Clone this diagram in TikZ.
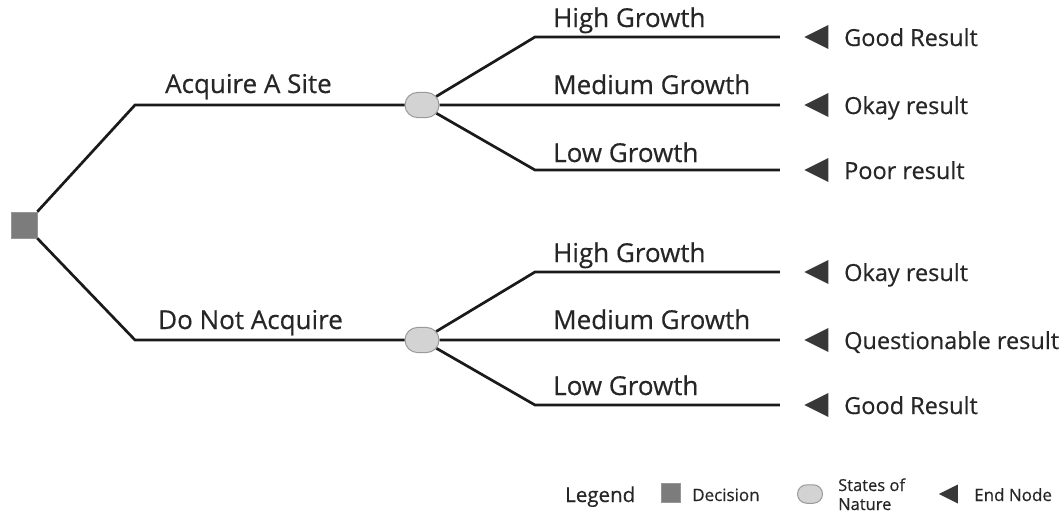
\documentclass[tikz,border=0pt]{standalone}
\usepackage{fontspec}
\setmainfont{Open Sans}[FakeBold=0.45]
\usetikzlibrary{shapes.geometric,shapes.misc}
\definecolor{ink}{HTML}{1A1A1A}
\definecolor{txt}{HTML}{262626}
\definecolor{decfill}{HTML}{7C7C7C}
\definecolor{chfill}{HTML}{D3D3D3}
\definecolor{chdraw}{HTML}{9A9A9A}
\definecolor{endfill}{HTML}{383838}
\tikzset{
  edge/.style={draw=ink, line width=2.7pt},
  decision/.style={rectangle, fill=decfill, draw=decfill!80!white, line width=0.6pt, minimum size=#1, inner sep=0pt},
  chance/.style={rounded rectangle, fill=chfill, draw=chdraw, line width=1pt, minimum width=#1, minimum height=0.74*#1, inner sep=0pt},
  endnode/.style={isosceles triangle, isosceles triangle stretches, shape border rotate=180, fill=endfill, inner sep=0pt, minimum width=#1, minimum height=#1},
  blabel/.style={anchor=base west, text=txt, font=\fontsize{26}{26}\selectfont, inner sep=0pt},
  rlabel/.style={anchor=base west, text=txt, font=\fontsize{23.5}{24}\selectfont, inner sep=0pt},
  lglabel/.style={anchor=base west, text=txt, font=\fontsize{17}{17}\selectfont, inner sep=0pt},
}
\begin{document}
\begin{tikzpicture}[x=1pt, y=-1pt]
\useasboundingbox (0,0) rectangle (1061,512);

% decision and chance nodes
\node[decision=26pt] (dec) at (24,225) {};
\node[chance=34pt] (c1) at (422,105) {};
\node[chance=34pt] (c2) at (422,340) {};

% bend points of the two decision branches
\coordinate (a1) at (135,105);
\coordinate (a2) at (135,340);
\draw[edge] (dec.north east) -- (a1) -- (c1);
\draw[edge] (dec.south east) -- (a2) -- (c2);
\node[blabel] (la1) at (165,93) {Acquire A Site};
\node[blabel] (la2) at (158,329) {Do Not Acquire};

% end nodes
\foreach \n/\y in {e1/37, e2/105, e3/170, e4/272, e5/340, e6/405}
  \node[endnode=24pt] (\n) at (821,\y) {};

% outcome branches
\coordinate (b1) at (535,37);
\coordinate (b3) at (535,170);
\coordinate (b4) at (535,272);
\coordinate (b6) at (535,405);
\draw[edge, shorten >=24pt] (c1) -- (b1) -- (e1.apex);
\draw[edge, shorten >=24pt] (c1) -- (e2.apex);
\draw[edge, shorten >=24pt] (c1) -- (b3) -- (e3.apex);
\draw[edge, shorten >=24pt] (c2) -- (b4) -- (e4.apex);
\draw[edge, shorten >=24pt] (c2) -- (e5.apex);
\draw[edge, shorten >=24pt] (c2) -- (b6) -- (e6.apex);

% branch labels
\node[blabel] (g1) at (553,27) {High Growth};
\node[blabel] (g2) at (553,94) {Medium Growth};
\node[blabel] (g3) at (553,162) {Low Growth};
\node[blabel] (g4) at (553,262) {High Growth};
\node[blabel] (g5) at (553,329) {Medium Growth};
\node[blabel] (g6) at (553,395) {Low Growth};

% results
\node[rlabel] (r1) at (844,46) {Good Result};
\node[rlabel] (r2) at (844,114) {Okay result};
\node[rlabel] (r3) at (844,179) {Poor result};
\node[rlabel] (r4) at (844,281) {Okay result};
\node[rlabel] (r5) at (844,349) {Questionable result};
\node[rlabel] (r6) at (844,414) {Good Result};

% legend
\node[anchor=base west, text=txt, font=\fontsize{20.5}{21}\selectfont, inner sep=0pt] (lg) at (565,502) {Legend};
\node[decision=19pt] (lgd) at (671,493) {};
\node[lglabel] (lgdt) at (692,501) {Decision};
\node[chance=25pt] (lgc) at (810,494) {};
\node[anchor=base west, text=txt, font=\fontsize{16.5}{17}\selectfont, inner sep=0pt] (lgc1) at (838,491) {States of};
\node[anchor=base west, text=txt, font=\fontsize{16.5}{17}\selectfont, inner sep=0pt] (lgc2) at (838,510) {Nature};
\node[endnode=19pt] (lge) at (952,494) {};
\node[lglabel] (lget) at (974,501) {End Node};
\end{tikzpicture}
\end{document}
